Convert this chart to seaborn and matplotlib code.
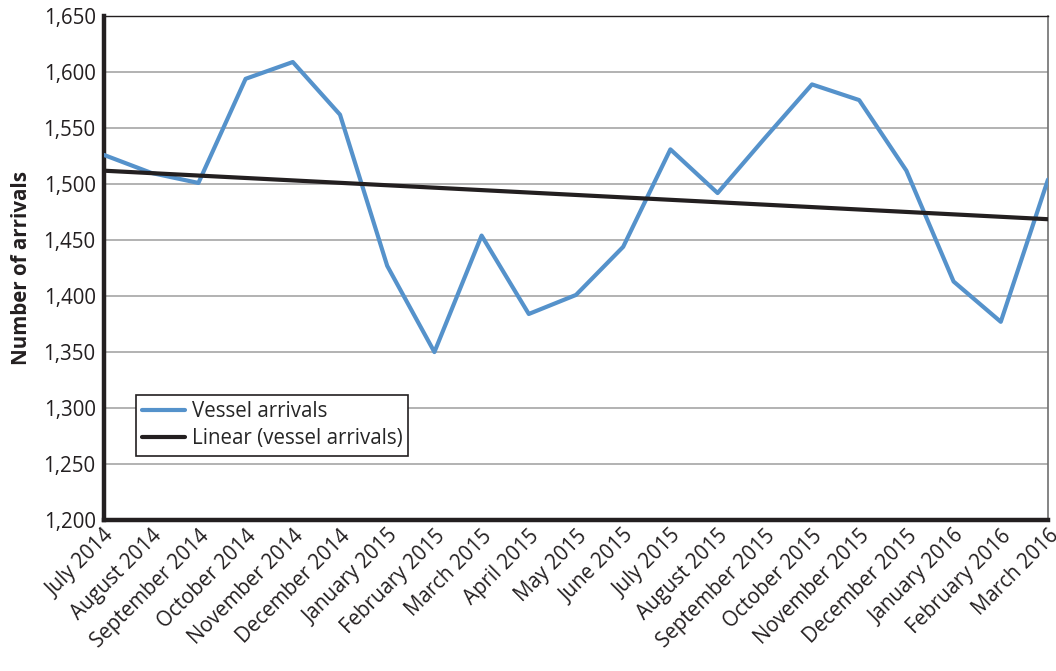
import numpy as np
import pandas as pd
import seaborn as sns
import matplotlib.pyplot as plt

months = ["July 2014", "August 2014", "September 2014", "October 2014", "November 2014",
          "December 2014", "January 2015", "February 2015", "March 2015", "April 2015",
          "May 2015", "June 2015", "July 2015", "August 2015", "September 2015",
          "October 2015", "November 2015", "December 2015", "January 2016",
          "February 2016", "March 2016"]
arrivals = [1526, 1510, 1501, 1594, 1609, 1562, 1427, 1350, 1454, 1384, 1401,
            1444, 1531, 1492, 1541, 1589, 1575, 1512, 1413, 1377, 1504]
y_ticks = [1200, 1250, 1300, 1350, 1400, 1450, 1500, 1550, 1600, 1650]

df = pd.DataFrame({"month": months, "pos": np.arange(len(months)), "arrivals": arrivals})

sns.set_style("white")
plt.rcParams['font.family'] = ['Open Sans', 'DejaVu Sans']
fs = 14.8

fig = plt.figure(figsize=(10.56, 6.71), dpi=100)
ax = fig.add_axes([0.0985, 0.225, 0.8939, 0.751])

# gridlines
for v in y_ticks[1:]:
    ax.axhline(v, color='#A6A6A6', linewidth=1.2, zorder=0)

sns.lineplot(data=df, x="pos", y="arrivals", ax=ax, color='#5592CB', linewidth=3,
             label="Vessel arrivals", zorder=3)
# linear trend (least squares fit)
sns.regplot(data=df, x="pos", y="arrivals", ax=ax, scatter=False, ci=None,
            color='#231F20', line_kws={"linewidth": 3, "zorder": 4},
            label="Linear (vessel arrivals)")

ax.set_xlim(0, len(months) - 1)
ax.set_ylim(1200, 1650)
ax.set_yticks(y_ticks)
ax.set_yticklabels([f"{v:,}" for v in y_ticks], fontsize=fs, color='#231F20')
ax.set_xticks(df["pos"])
ax.set_xticklabels(months, rotation=45, ha='right', rotation_mode='anchor',
                   fontsize=fs, color='#231F20')
ax.tick_params(axis='x', direction='in', length=8, width=1.2, color='#231F20', pad=4)
ax.tick_params(axis='y', length=0, pad=6)

ax.set_xlabel("")
ax.set_ylabel("Number of arrivals", fontsize=fs, fontweight='bold', color='#231F20', labelpad=8)

for side in ['left', 'bottom']:
    ax.spines[side].set_color('#231F20')
    ax.spines[side].set_linewidth(3.2)
ax.spines['top'].set_color('#231F20')
ax.spines['top'].set_linewidth(1)
ax.spines['right'].set_color('#707070')
ax.spines['right'].set_linewidth(1.2)

leg = ax.legend(loc='lower left', bbox_to_anchor=(0.034, 0.128), fontsize=fs,
                frameon=True, fancybox=False, framealpha=1, edgecolor='#231F20',
                handlelength=2.1, handletextpad=0.3, borderpad=0.3, labelspacing=0.3,
                borderaxespad=0)
leg.get_frame().set_linewidth(1.2)

fig.savefig("out.png", dpi=100)
